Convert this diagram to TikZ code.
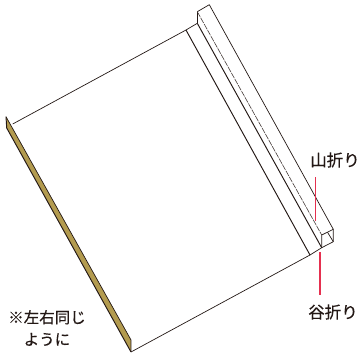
\documentclass[tikz,border=0pt]{standalone}
\usepackage{fontspec}
\setmainfont[FakeBold=0.35]{Noto Sans CJK JP}
\definecolor{brownfill}{HTML}{B39B4F}
\definecolor{redline}{HTML}{E5304F}
\definecolor{inkline}{HTML}{231815}
\tikzset{
  sheet/.style={draw=inkline,line width=0.7pt,line join=round},
  fold/.style={draw=inkline,line width=0.95pt,line join=round},
  thin fold/.style={draw=inkline!85,line width=0.6pt,dash pattern=on 6pt off 1pt},
  pointer/.style={draw=redline,line width=1.3pt},
  caption/.style={font=\fontsize{15.5}{22}\selectfont,text=inkline,align=center,inner sep=0pt},
  big caption/.style={caption,font=\fontsize{16.5}{22}\selectfont}
}
\begin{document}
\begin{tikzpicture}[x=1pt,y=-1pt]
\useasboundingbox (0,0) rectangle (360,356);
\coordinate (bl) at (6,116.7);
\coordinate (bl2) at (6.7,128);
\coordinate (br) at (131,340);
\coordinate (br2) at (131,352);
\coordinate (tl) at (12.7,124);
\coordinate (a1) at (186,30);
\coordinate (a2) at (310,255);
\coordinate (b1) at (197.3,23.3);
\coordinate (b2) at (321.7,247.7);
\coordinate (c1) at (197.3,11.7);
\coordinate (c2) at (321.7,235);
\coordinate (d1) at (209.3,4.7);
\coordinate (d2) at (333.3,229.3);
\coordinate (d3) at (333.3,241.7);
\coordinate (e1) at (327.5,232.2);
\fill[brownfill] (bl) -- (br) -- (br2) -- (bl2) -- cycle;
\draw[sheet] (bl) -- (br) -- (br2);
\draw[fold] (br2) -- (bl2) -- (bl);
\draw[sheet] (tl) -- (a1) -- (b1);
\draw[sheet] (a2) -- (br2);
\draw[fold] (b1) -- (c1);
\draw[sheet] (c1) -- (d1) -- (d2) -- (d3) -- (b2) -- (a2);
\draw[fold] (a1) -- (a2);
\draw[fold] (b1) -- (b2);
\draw[sheet] (b2) -- (c2) -- (d2);
\draw[sheet] (e1) -- (d3);
\draw[thin fold] (c1) -- (c2);
\draw[pointer] (315.5,177.3) -- (315.5,221);
\draw[pointer] (320,252) -- (320,295.5);
\node[big caption] (m) at (335,160) {山折り};
\node[big caption] (v) at (333,312) {谷折り};
\node[caption] (n) at (47,328) {※左右同じ\\ように};
\end{tikzpicture}
\end{document}
